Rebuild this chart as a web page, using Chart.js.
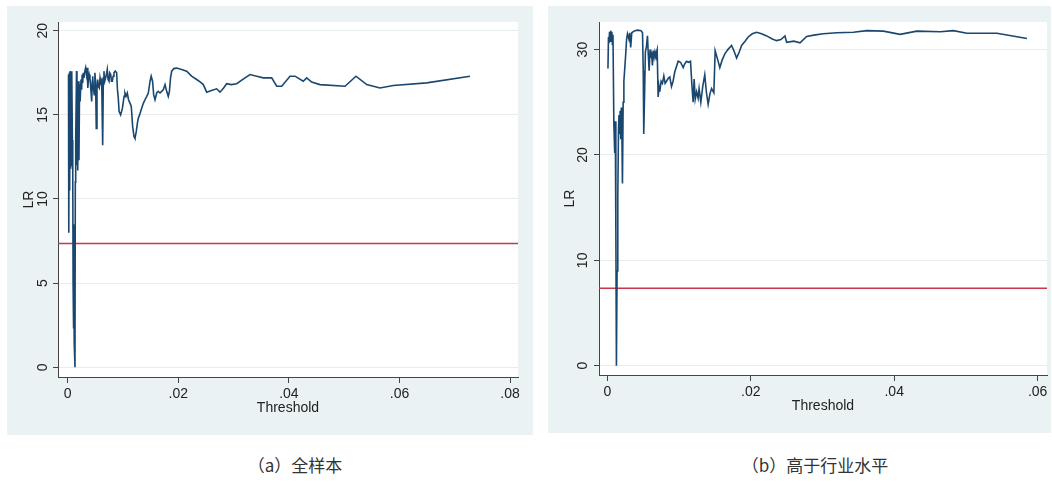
<!DOCTYPE html>
<html>
<head>
<meta charset="utf-8">
<script src="https://cdn.jsdelivr.net/npm/chart.js@4.4.1/dist/chart.umd.min.js"></script>
<style>
body{margin:0;background:#fff;width:1052px;height:482px;position:relative;overflow:hidden;}
.panel{position:absolute;background:#eaf2f3;}
#panelA{left:7px;top:6px;width:526px;height:429px;}
#panelB{left:548px;top:6px;width:503px;height:427px;}
.cap{position:absolute;top:453px;line-height:24px;font-family:"Noto Sans CJK SC",sans-serif;font-size:17px;color:#333;transform:translateX(-50%);white-space:nowrap;}
</style>
</head>
<body>
<div class="panel" id="panelA"><canvas id="chartA" width="526" height="429"></canvas></div>
<div class="panel" id="panelB"><canvas id="chartB" width="503" height="427"></canvas></div>
<div class="cap" style="left:295px">（a）全样本</div>
<div class="cap" style="left:815px">（b）高于行业水平</div>
<script>
'use strict';

// (a) full sample: threshold value and LR statistic
let thresholdA=[0.00015,0.00020,0.00030,0.00036,0.00042,0.00050,0.00056,0.00063,0.00070,0.00078,
    0.00085,0.00092,0.00098,0.00104,0.00110,0.00118,0.00132,0.00138,0.00145,0.00160,
    0.00168,0.00175,0.00182,0.00192,0.00204,0.00215,0.00225,0.00241,0.00252,0.00262,
    0.00272,0.00282,0.00295,0.00310,0.00325,0.00340,0.00354,0.00364,0.00373,0.00390,
    0.00403,0.00415,0.00434,0.00445,0.00452,0.00465,0.00481,0.00492,0.00505,0.00517,
    0.00530,0.00542,0.00555,0.00571,0.00585,0.00600,0.00615,0.00633,0.00645,0.00656,
    0.00670,0.00687,0.00700,0.00716,0.00730,0.00747,0.00760,0.00778,0.00792,0.00807,
    0.00822,0.00837,0.00860,0.00886,0.00900,0.00915,0.00930,0.00958,0.00990,0.01020,
    0.01036,0.01055,0.01078,0.01100,0.01127,0.01150,0.01175,0.01200,0.01217,0.01240,
    0.01260,0.01277,0.01300,0.01338,0.01370,0.01398,0.01430,0.01458,0.01490,0.01510,
    0.01535,0.01555,0.01579,0.01610,0.01638,0.01670,0.01700,0.01730,0.01760,0.01790,
    0.01819,0.01840,0.01860,0.01881,0.01920,0.01971,0.02060,0.02152,0.02240,0.02333,
    0.02400,0.02452,0.02514,0.02600,0.02694,0.02754,0.02820,0.02875,0.02960,0.03056,
    0.03160,0.03297,0.03420,0.03537,0.03689,0.03780,0.03870,0.04020,0.04110,0.04260,
    0.04322,0.04412,0.04562,0.05015,0.05213,0.05407,0.05647,0.05888,0.06492,0.07275];
let lrA=[17.4,8.0,17.5,10.5,17.6,11.8,16.0,12.0,17.6,17.5,
    13.5,11.5,5.0,2.3,8.5,1.5,0.0,11.0,13.5,17.6,
    12.0,16.5,11.7,17.0,12.3,16.8,15.8,17.1,16.5,17.4,
    16.9,17.5,17.2,17.6,17.8,17.4,17.8,16.6,17.0,17.4,
    17.2,16.7,15.8,17.0,17.3,16.6,16.2,17.5,16.9,14.2,
    16.5,17.1,16.7,16.6,17.2,16.9,17.0,13.2,17.2,17.6,
    17.0,17.2,17.4,17.7,17.1,17.0,17.5,17.4,17.0,17.0,
    17.3,17.5,17.6,17.5,16.5,16.0,15.2,15.0,15.4,16.1,
    16.3,16.1,16.3,15.9,15.7,15.5,14.3,13.7,13.6,14.0,
    14.5,14.8,15.0,15.4,15.7,15.9,16.1,16.3,17.0,17.3,
    17.0,16.2,15.9,16.3,16.4,16.3,16.4,16.5,16.8,16.4,
    16.1,16.4,17.2,17.6,17.75,17.78,17.7,17.6,17.3,17.1,
    16.95,16.8,16.35,16.45,16.55,16.35,16.6,16.85,16.8,16.85,
    17.1,17.4,17.3,17.2,17.2,16.7,16.7,17.3,17.3,17.0,
    17.2,16.95,16.8,16.7,17.3,16.8,16.6,16.75,16.9,17.3];

// (b) above industry level
let thresholdB=[0.00008,0.00015,0.00022,0.00030,0.00038,0.00046,0.00054,0.00062,0.00070,0.00078,
    0.00090,0.00102,0.00110,0.00118,0.00126,0.00135,0.00145,0.00155,0.00162,0.00170,
    0.00178,0.00186,0.00194,0.00202,0.00210,0.00220,0.00230,0.00242,0.00255,0.00268,
    0.00280,0.00300,0.00312,0.00325,0.00340,0.00360,0.00385,0.00420,0.00470,0.00490,
    0.00500,0.00507,0.00518,0.00530,0.00545,0.00559,0.00570,0.00582,0.00595,0.00605,
    0.00614,0.00628,0.00640,0.00652,0.00664,0.00675,0.00694,0.00708,0.00720,0.00731,
    0.00750,0.00768,0.00787,0.00805,0.00824,0.00850,0.00870,0.00894,0.00916,0.00940,
    0.00964,0.00987,0.01020,0.01057,0.01075,0.01103,0.01130,0.01159,0.01180,0.01196,
    0.01210,0.01225,0.01245,0.01265,0.01279,0.01303,0.01330,0.01358,0.01380,0.01405,
    0.01430,0.01453,0.01485,0.01503,0.01540,0.01568,0.01600,0.01638,0.01680,0.01732,
    0.01770,0.01802,0.01840,0.01872,0.01920,0.01964,0.02020,0.02081,0.02150,0.02221,
    0.02300,0.02360,0.02420,0.02476,0.02500,0.02600,0.02686,0.02779,0.02900,0.03012,
    0.03200,0.03431,0.03617,0.03849,0.04082,0.04316,0.04641,0.04827,0.05013,0.05432,
    0.05851];
let lrB=[28.2,31.2,30.6,31.7,30.8,31.8,31.0,31.7,30.5,31.4,
    23.0,20.2,23.2,13.0,0.0,9.0,16.0,22.5,23.8,22.0,
    24.2,21.5,24.5,22.3,17.3,25.0,27.0,28.2,29.5,31.0,
    31.5,31.0,31.6,30.2,31.6,31.7,31.8,31.85,31.8,31.6,
    28.0,22.0,25.5,29.8,30.3,31.3,29.6,28.0,30.0,29.2,
    29.8,28.5,29.9,29.3,29.8,29.5,30.0,25.5,26.5,26.0,
    27.0,26.8,27.5,26.8,27.0,27.3,27.4,26.5,27.0,27.9,
    28.4,28.9,28.8,28.3,28.6,28.9,28.8,28.9,26.5,25.0,
    27.2,25.3,26.0,25.4,26.3,25.0,26.5,27.6,26.0,24.8,
    25.8,26.3,25.9,29.9,29.0,28.3,29.0,29.6,30.0,30.4,
    29.8,29.2,29.8,30.4,30.8,31.2,31.5,31.65,31.5,31.3,
    31.0,30.85,30.95,31.3,30.7,30.8,30.65,31.25,31.4,31.5,
    31.6,31.65,31.8,31.75,31.45,31.75,31.7,31.8,31.55,31.55,
    31.05];

// 5% critical value of the LR statistic
let critValue=7.35;

let xTicksA=[0,0.02,0.04,0.06,0.08];
let xTickLabelsA=['0','.02','.04','.06','.08'];
let yTicksA=[0,5,10,15,20];
let xTicksB=[0,0.02,0.04,0.06];
let xTickLabelsB=['0','.02','.04','.06'];
let yTicksB=[0,10,20,30];

const TXT='#222';
const FONT='14px "Liberation Sans", Arial, sans-serif';

// draws the white plot region, the critical value line and the axis texts
let stataPlugin={
    id:'stata',
    beforeDraw(chart){
        let a=chart.chartArea, ctx=chart.ctx;
        ctx.save();
        ctx.fillStyle='#ffffff';
        ctx.fillRect(a.left,a.top,a.right-a.left,a.bottom-a.top);
        ctx.restore();
    },
    beforeDatasetsDraw(chart){
        let a=chart.chartArea, ctx=chart.ctx;
        let y=chart.scales.y.getPixelForValue(critValue);
        ctx.save();
        ctx.strokeStyle='#c9344f';
        ctx.lineWidth=1.5;
        ctx.beginPath();
        ctx.moveTo(a.left,y);
        ctx.lineTo(a.right,y);
        ctx.stroke();
        ctx.restore();
    },
    afterDraw(chart,args,opts){
        let a=chart.chartArea, ctx=chart.ctx;
        let xs=chart.scales.x, ys=chart.scales.y;
        ctx.save();
        ctx.fillStyle=TXT;
        ctx.font=FONT;
        ctx.textAlign='center';
        ctx.textBaseline='middle';
        opts.xTicks.forEach(function(v,i){
            ctx.fillText(opts.xLabels[i],xs.getPixelForValue(v),opts.xLabelY);
        });
        ctx.fillText('Threshold',(a.left+a.right)/2,opts.xTitleY);
        opts.yTicks.forEach(function(v){
            ctx.save();
            ctx.translate(opts.yLabelX,ys.getPixelForValue(v));
            ctx.rotate(-Math.PI/2);
            ctx.fillText(String(v),0,0);
            ctx.restore();
        });
        ctx.translate(opts.yTitleX,(a.top+a.bottom)/2);
        ctx.rotate(-Math.PI/2);
        ctx.fillText('LR',0,0);
        ctx.restore();
    }
};

function makeChart(canvasId,xs,ys,c){
    let pts=[];
    for(let i=0;i<xs.length;i++){
        pts.push({x:xs[i],y:ys[i]});
    }
    let chartObj={
        type:'line',
        data:{
            datasets:[{
                data:pts,
                borderColor:'#1a476f',
                borderWidth:1.6,
                pointRadius:0,
                tension:0,
                fill:false
            }]
        },
        options:{
            responsive:false,
            animation:false,
            devicePixelRatio:1,
            layout:{padding:{top:c.padTop,right:c.padRight,left:0,bottom:0}},
            plugins:{
                legend:{display:false},
                tooltip:{enabled:false},
                stata:{
                    xTicks:c.xTicks, xLabels:c.xLabels, yTicks:c.yTicks,
                    xLabelY:c.xLabelY, xTitleY:c.xTitleY,
                    yLabelX:c.yLabelX, yTitleX:c.yTitleX
                }
            },
            scales:{
                x:{
                    type:'linear',
                    min:c.xMin, max:c.xMax,
                    afterBuildTicks:function(s){ s.ticks=c.xTicks.map(function(v){return {value:v};}); },
                    afterFit:function(s){ s.height=c.xAxisH; },
                    ticks:{display:false},
                    grid:{drawOnChartArea:false,drawTicks:true,tickLength:6,tickColor:'#444'},
                    border:{display:true,color:'#444',width:1}
                },
                y:{
                    type:'linear',
                    min:c.yMin, max:c.yMax,
                    afterBuildTicks:function(s){ s.ticks=c.yTicks.map(function(v){return {value:v};}); },
                    afterFit:function(s){ s.width=c.yAxisW; },
                    ticks:{display:false},
                    grid:{color:'#e9ecec',lineWidth:1,drawTicks:true,tickLength:5,tickColor:'#444'},
                    border:{display:true,color:'#444',width:1}
                }
            }
        },
        plugins:[stataPlugin]
    };
    return new Chart(document.getElementById(canvasId),chartObj);
}

makeChart('chartA',thresholdA,lrA,{
    xMin:-0.00175, xMax:0.08143, yMin:-0.58, yMax:20.52,
    xTicks:xTicksA, xLabels:xTickLabelsA, yTicks:yTicksA,
    padTop:16, padRight:15, yAxisW:51, xAxisH:58,
    xLabelY:388, xTitleY:402, yLabelX:36, yTitleX:22
});

makeChart('chartB',thresholdB,lrB,{
    xMin:-0.00117, xMax:0.06131, yMin:-0.88, yMax:32.62,
    xTicks:xTicksB, xLabels:xTickLabelsB, yTicks:yTicksB,
    padTop:16, padRight:4, yAxisW:51, xAxisH:58,
    xLabelY:386, xTitleY:400, yLabelX:35, yTitleX:22
});
</script>
</body>
</html>
